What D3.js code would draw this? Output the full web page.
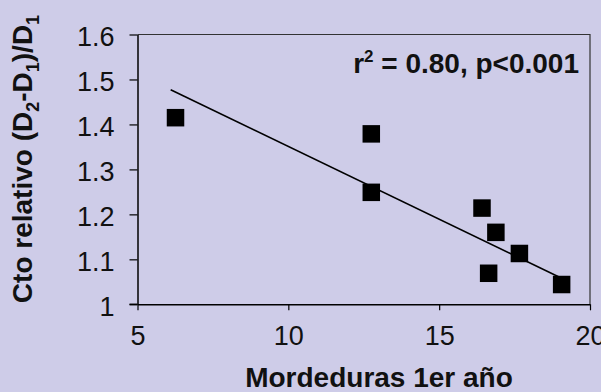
<!DOCTYPE html>
<html>
<head>
<meta charset="utf-8">
<script src="https://cdn.jsdelivr.net/npm/d3@7"></script>
<style>
  html, body { margin: 0; padding: 0; background: #CECCE8; }
  svg { display: block; }
  text { font-family: "Liberation Sans", Arial, sans-serif; fill: #111; }
</style>
</head>
<body>
<svg id="chart" width="601" height="392"></svg>
<script>
// Bites in the first year vs. relative growth
const bites = [6.26, 12.75, 12.75, 16.42, 16.88, 17.66, 16.64, 19.06];
const relGrowth = [1.415, 1.379, 1.249, 1.214, 1.160, 1.113, 1.069, 1.044];
// Fitted trend line endpoints
const trendX = [6.10, 19.06];
const trendY = [1.477, 1.058];
const xTicks = [5, 10, 15, 20];
const yTicks = [1, 1.1, 1.2, 1.3, 1.4, 1.5, 1.6];
const statLabel = ["r", "2", " = 0.80, p<0.001"];

const svg = d3.select("#chart");
const plot = { left: 137.5, right: 590, top: 34.5, bottom: 304.3 };

const x = d3.scaleLinear().domain([5, 20]).range([plot.left, plot.right]);
const y = d3.scaleLinear().domain([1, 1.6]).range([plot.bottom, plot.top]);

// plot frame (top and right edges)
svg.append("path")
  .attr("d", `M${plot.left},${plot.top}H${plot.right}V${plot.bottom}`)
  .attr("fill", "none").attr("stroke", "#333").attr("stroke-width", 1.2);

const xAxis = svg.append("g")
  .attr("transform", `translate(0,${plot.bottom})`)
  .call(d3.axisBottom(x).tickValues(xTicks).tickSize(6).tickSizeOuter(0).tickPadding(16)
    .tickFormat(d3.format("d")));
const yAxis = svg.append("g")
  .attr("transform", `translate(${plot.left},0)`)
  .call(d3.axisLeft(y).tickValues(yTicks).tickSize(8).tickSizeOuter(0).tickPadding(15)
    .tickFormat(d => d === 1 ? "1" : d3.format(".1f")(d)));

[xAxis, yAxis].forEach(g => {
  g.select(".domain").attr("stroke", "#000").attr("stroke-width", 1.5);
  g.selectAll(".tick line").attr("stroke", "#000").attr("stroke-width", 1.2);
  g.selectAll(".tick text").style("font-size", "27px").attr("fill", "#111");
});
yAxis.selectAll(".tick text").attr("dy", "11px");
// extend the x baseline to meet the lowest y tick
svg.append("line").attr("x1", plot.left - 8).attr("x2", plot.left)
  .attr("y1", plot.bottom).attr("y2", plot.bottom).attr("stroke", "#000").attr("stroke-width", 1.5);

// trend line
svg.append("line")
  .attr("x1", x(trendX[0])).attr("y1", y(trendY[0]))
  .attr("x2", x(trendX[1])).attr("y2", y(trendY[1]))
  .attr("stroke", "#000").attr("stroke-width", 1.6);

// square markers
const s = 17.5;
svg.append("g").selectAll("rect")
  .data(d3.zip(bites, relGrowth))
  .join("rect")
  .attr("x", d => x(d[0]) - s / 2)
  .attr("y", d => y(d[1]) - s / 2)
  .attr("width", s).attr("height", s)
  .attr("fill", "#000");

// statistics label
const stat = svg.append("text")
  .attr("x", 579).attr("y", 72.5)
  .attr("text-anchor", "end")
  .style("font-size", "28px").style("font-weight", "bold");
stat.append("tspan").text(statLabel[0]);
stat.append("tspan").attr("dy", -11).style("font-size", "17px").text(statLabel[1]);
stat.append("tspan").attr("dy", 11).text(statLabel[2]);

// x axis title
svg.append("text")
  .attr("x", 379).attr("y", 386.5)
  .attr("text-anchor", "middle")
  .style("font-size", "28px").style("font-weight", "bold")
  .text("Mordeduras 1er año");

// y axis title with subscripts
const yt = svg.append("text")
  .attr("transform", "translate(32,159) rotate(-90)")
  .attr("text-anchor", "middle")
  .style("font-size", "28px").style("font-weight", "bold");
const parts = [["Cto relativo (D", 0], ["2", 1], ["-D", 0], ["1", 1], [")/D", 0], ["1", 1]];
let shift = 0;
parts.forEach(([t, sub]) => {
  const target = sub ? 7 : 0;
  yt.append("tspan").attr("dy", target - shift)
    .style("font-size", sub ? "18px" : "28px").text(t);
  shift = target;
});
</script>
</body>
</html>
